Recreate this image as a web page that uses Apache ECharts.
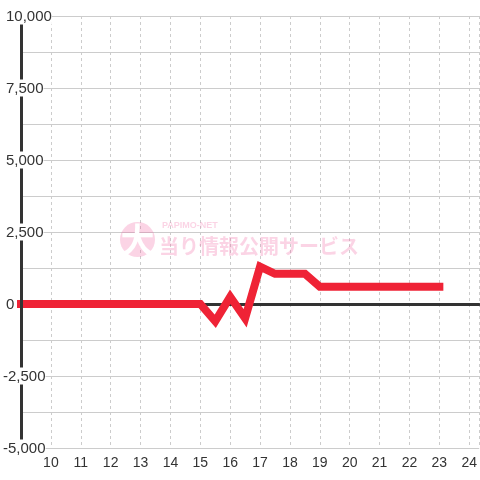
<!DOCTYPE html>
<html>
<head>
<meta charset="utf-8">
<script src="https://cdn.jsdelivr.net/npm/echarts@6/dist/echarts.min.js"></script>
<style>html,body{margin:0;padding:0;background:#fff}#c{width:480px;height:480px}</style>
</head>
<body>
<div id="c"></div>
<script>
// x positions (hour) and values
const xs = [9, 9.5, 10, 10.5, 11, 11.5, 12, 12.5, 13, 13.5, 14, 14.5, 15, 15.5, 16, 16.5, 17, 17.5, 18, 18.5, 19, 19.5, 20, 20.5, 21, 21.5, 22, 22.5, 23];
const values = [0, 0, 0, 0, 0, 0, 0, 0, 0, 0, 0, 0, 0, -600, 250, -500, 1300, 1050, 1050, 1050, 600, 600, 600, 600, 600, 600, 600, 600, 600];
const xTickLabels = [10, 11, 12, 13, 14, 15, 16, 17, 18, 19, 20, 21, 22, 23, 24];
const yTickLabels = [-5000, -2500, 0, 2500, 5000, 7500, 10000];

const chart = echarts.init(document.getElementById('c'));
const fmt = v => v.toLocaleString('en-US');
const xMin = 9, xMax = 24 + 1 / 3;
const yMin = -5000, yMax = 10000;
chart.setOption({
  animation: false,
  grid: { left: 20, right: 0, top: 16, bottom: 32, containLabel: false },
  xAxis: [{
    type: 'value', min: xMin, max: xMax, interval: 1, position: 'bottom',
    axisLine: { show: false, onZero: false }, axisTick: { show: false },
    splitLine: { show: true, lineStyle: { color: '#cccccc', type: [3, 3], width: 1 } },
    axisLabel: {
      showMinLabel: false, showMaxLabel: false, margin: 8,
      color: '#333', fontSize: 14, fontFamily: 'Liberation Sans',
      formatter: v => (xTickLabels.indexOf(v) >= 0 ? String(v) : '')
    }
  }, {
    type: 'value', min: xMin, max: xMax, interval: 1, position: 'top',
    axisLine: { show: true, onZero: true, onZeroAxisIndex: 1, lineStyle: { color: '#333', width: 3 } },
    axisTick: { show: false }, axisLabel: { show: false }, splitLine: { show: false }
  }],
  yAxis: [{
    type: 'value', min: yMin, max: yMax, interval: 1250, z: 5, position: 'left',
    axisLine: { show: true, onZero: false, lineStyle: { color: '#333', width: 3 } },
    axisTick: { show: false },
    splitLine: { show: false },
    axisLabel: {
      interval: 1, align: 'left', margin: 18,
      color: '#333', fontSize: 15, fontFamily: 'Liberation Sans',
      backgroundColor: '#fff', padding: [2, 0, 0, 0],
      formatter: v => (yTickLabels.indexOf(v) >= 0 ? (v < 0 ? fmt(v) : '{sp|}' + fmt(v)) : ''),
      rich: { sp: { width: 3 } }
    }
  }, {
    type: 'value', min: yMin, max: yMax, interval: 1250, z: 0, position: 'left',
    axisLine: { show: false, onZero: false }, axisTick: { show: false }, axisLabel: { show: false },
    splitLine: { show: true, lineStyle: { color: '#cccccc', width: 1 } }
  }],
  graphic: [
    { type: 'circle', shape: { cx: 137.5, cy: 239.5, r: 17.5 }, style: { fill: 'rgba(240,100,160,0.28)' }, z: 1 },
    { type: 'text', x: 137.5, y: 240, style: { text: '大', fill: '#fff', font: 'bold 34px "Noto Sans CJK JP"', align: 'center', verticalAlign: 'middle' }, z: 2 },
    { type: 'text', x: 162, y: 226, style: { text: 'PAPIMO-NET', fill: 'rgba(240,100,160,0.28)', font: 'bold 9px "Liberation Sans"', align: 'left', verticalAlign: 'middle' }, z: 1 },
    { type: 'text', x: 159, y: 246, style: { text: '当り情報公開サービス', fill: 'rgba(240,100,160,0.28)', font: 'bold 20px "Noto Sans CJK JP"', align: 'left', verticalAlign: 'middle' }, z: 1 }
  ],
  series: [{
    type: 'line', z: 3, xAxisIndex: 0, yAxisIndex: 0,
    data: xs.map((x, i) => [x, values[i]]),
    showSymbol: false, symbol: 'none',
    lineStyle: { color: '#ef2336', width: 8, cap: 'square', join: 'miter' }
  }]
});
</script>
</body>
</html>
